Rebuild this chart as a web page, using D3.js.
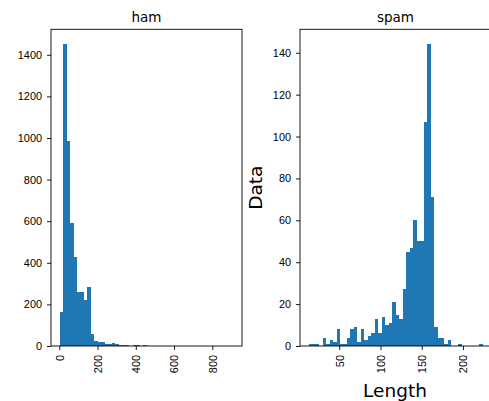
<!DOCTYPE html>
<html>
<head>
<meta charset="utf-8">
<script src="https://cdn.jsdelivr.net/npm/d3@7.9.0/dist/d3.min.js"></script>
<style>
  body { margin: 0; background: #fff; }
  svg { display: block; font-family: "DejaVu Sans", sans-serif; }
</style>
</head>
<body>
<svg id="chart" width="489" height="401"></svg>
<script>
// histogram counts (50 equal bins per group)
const hamRange = [2, 910];
const hamCounts = [165, 1450, 987, 590, 428, 258, 258, 220, 283, 57,
  25, 18, 17, 12, 10, 14, 9, 7, 5, 4,
  2, 4, 3, 1, 3, 2, 0, 1, 0, 0,
  0, 0, 0, 0, 0, 0, 0, 0, 0, 0,
  0, 0, 1, 0, 0, 0, 0, 0, 0, 1];

const spamRange = [13, 224];
const spamCounts = [1, 1, 1, 0, 4, 1, 3, 2, 8, 1,
  1, 4, 8, 9, 2, 8, 3, 5, 6, 13,
  6, 14, 10, 11, 21, 15, 13, 27, 45, 47,
  60, 50, 50, 107, 144, 71, 9, 4, 4, 1,
  3, 0, 0, 1, 0, 0, 0, 0, 0, 1];

const hamXTicks = [0, 200, 400, 600, 800];
const hamYTicks = [0, 200, 400, 600, 800, 1000, 1200, 1400];
const spamXTicks = [50, 100, 150, 200];
const spamYTicks = [0, 20, 40, 60, 80, 100, 120, 140];

const svg = d3.select('#chart');
const plotTop = 29.3, plotBottom = 346;
const blue = '#1f77b4';

function drawPanel(opts) {
  const { range, counts, left, right, title, xTicks, yTicks, titleX } = opts;
  const [lo, hi] = range;
  const pad = (hi - lo) * 0.05;
  const x = d3.scaleLinear().domain([lo - pad, hi + pad]).range([left, right]);
  const ymax = d3.max(counts) * 1.05;
  const y = d3.scaleLinear().domain([0, ymax]).range([plotBottom, plotTop]);
  const w = (hi - lo) / counts.length;

  const g = svg.append('g');

  g.selectAll('rect.bar')
    .data(counts)
    .enter()
    .append('rect')
    .attr('class', 'bar')
    .attr('x', (d, i) => x(lo + i * w))
    .attr('width', (d, i) => x(lo + (i + 1) * w) - x(lo + i * w))
    .attr('y', d => y(d))
    .attr('height', d => y(0) - y(d))
    .attr('fill', blue)
    .attr('shape-rendering', 'crispEdges');

  // frame
  g.append('rect')
    .attr('x', left).attr('y', plotTop)
    .attr('width', right - left).attr('height', plotBottom - plotTop)
    .attr('fill', 'none').attr('stroke', '#000').attr('stroke-width', 0.9);

  const xAxis = d3.axisBottom(x).tickValues(xTicks).tickSize(4).tickPadding(0).tickFormat(d3.format('d'));
  const xg = g.append('g').attr('transform', `translate(0,${plotBottom})`).call(xAxis);
  xg.select('.domain').remove();
  xg.selectAll('line').attr('stroke', '#000').attr('stroke-width', 0.9);
  xg.selectAll('text')
    .attr('font-size', 10.9)
    .attr('fill', '#000')
    .attr('transform', 'translate(0,9) rotate(-90)')
    .attr('x', 0).attr('y', 0).attr('dy', '0.35em')
    .attr('text-anchor', 'end');

  const yAxis = d3.axisLeft(y).tickValues(yTicks).tickSize(4).tickPadding(5).tickFormat(d3.format('d'));
  const yg = g.append('g').attr('transform', `translate(${left},0)`).call(yAxis);
  yg.select('.domain').remove();
  yg.selectAll('line').attr('stroke', '#000').attr('stroke-width', 0.9);
  yg.selectAll('text').attr('font-size', 10.9).attr('fill', '#000');

  svg.append('text')
    .attr('x', titleX)
    .attr('y', 22)
    .attr('text-anchor', 'middle')
    .attr('font-size', 13.5)
    .attr('fill', '#000')
    .text(title);
}

drawPanel({ range: hamRange, counts: hamCounts, left: 51, right: 242, title: 'ham', titleX: 146.5, xTicks: hamXTicks, yTicks: hamYTicks });
drawPanel({ range: spamRange, counts: spamCounts, left: 300, right: 491.5, title: 'spam', titleX: 395.5, xTicks: spamXTicks, yTicks: spamYTicks });

svg.append('text')
  .attr('transform', `translate(262,${(plotTop + plotBottom) / 2}) rotate(-90)`)
  .attr('text-anchor', 'middle')
  .attr('font-size', 18.5)
  .attr('fill', '#000')
  .text('Data');

svg.append('text')
  .attr('x', 395)
  .attr('y', 397)
  .attr('text-anchor', 'middle')
  .attr('font-size', 18.5)
  .attr('fill', '#000')
  .text('Length');
</script>
</body>
</html>
